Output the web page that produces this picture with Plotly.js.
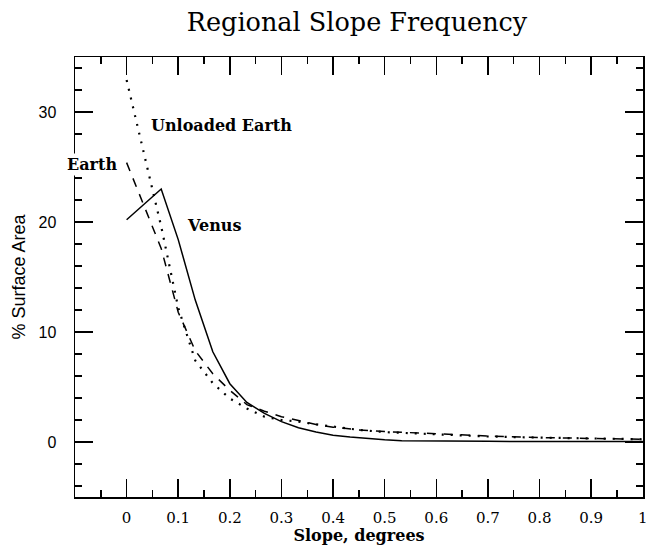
<!DOCTYPE html>
<html>
<head>
<meta charset="utf-8">
<script src="https://cdn.plot.ly/plotly-3.0.1.min.js"></script>
<style>html,body{margin:0;padding:0;background:#fff;}#chart{width:648px;height:545px;}</style>
</head>
<body>
<div id="chart"></div>
<script>
// Venus (solid)
var venusX = [0, 0.067, 0.1, 0.133, 0.167, 0.2, 0.233, 0.267, 0.3, 0.333, 0.367, 0.4, 0.433, 0.467, 0.5, 0.533, 0.6, 0.7, 0.8, 0.9, 1.0];
var venusY = [20.2, 23.0, 18.4, 12.9, 8.2, 5.3, 3.6, 2.6, 1.85, 1.3, 0.9, 0.62, 0.45, 0.3, 0.2, 0.12, 0.08, 0.06, 0.05, 0.05, 0.05];
// Earth (dashed)
var earthX = [0, 0.033, 0.067, 0.1, 0.133, 0.167, 0.2, 0.233, 0.267, 0.3, 0.333, 0.367, 0.4, 0.45, 0.5, 0.6, 0.7, 0.8, 0.9, 1.0];
var earthY = [25.4, 21.6, 17.6, 11.8, 8.3, 6.2, 4.7, 3.4, 2.8, 2.3, 1.95, 1.6, 1.35, 1.1, 0.95, 0.72, 0.55, 0.4, 0.3, 0.25];
// Unloaded Earth (dotted)
var unloadedX = [0, 0.033, 0.067, 0.1, 0.133, 0.167, 0.2, 0.233, 0.267, 0.3, 0.333, 0.367, 0.4, 0.45, 0.5, 0.6, 0.7, 0.8, 0.9, 1.0];
var unloadedY = [32.9, 26.2, 19.6, 12.2, 7.4, 5.35, 3.95, 3.05, 2.3, 2.0, 1.85, 1.6, 1.4, 1.1, 0.9, 0.68, 0.5, 0.4, 0.3, 0.25];

var xTickVals = [0, 0.1, 0.2, 0.3, 0.4, 0.5, 0.6, 0.7, 0.8, 0.9, 1];
var xTickText = ['0', '0.1', '0.2', '0.3', '0.4', '0.5', '0.6', '0.7', '0.8', '0.9', '1'];
var xMinorVals = [-0.05, 0.05, 0.15, 0.25, 0.35, 0.45, 0.55, 0.65, 0.75, 0.85, 0.95];
var yTickVals = [0, 10, 20, 30];
var yTickText = ['0', '10', '20', '30'];
var yMinorVals = [-4, -2, 2, 4, 6, 8, 12, 14, 16, 18, 22, 24, 26, 28, 32, 34];

var labels = ['Unloaded Earth', 'Earth', 'Venus'];
var labelX = [0.183, -0.068, 0.17];
var labelY = [28.8, 25.2, 19.7];

var serif = 'DejaVu Serif, serif';
var sans = 'Liberation Sans, Arial, sans-serif';

var traces = [
  {x: venusX, y: venusY, type: 'scatter', mode: 'lines', line: {color: '#000', width: 1.5}, name: 'Venus'},
  {x: earthX, y: earthY, type: 'scatter', mode: 'lines', line: {color: '#000', width: 1.5, dash: '9px,8px'}, name: 'Earth'},
  {x: unloadedX, y: unloadedY, type: 'scatter', mode: 'lines', line: {color: '#000', width: 2.2, dash: '2px,7px'}, name: 'Unloaded Earth'}
];

var annotations = labels.map(function (t, i) {
  return {x: labelX[i], y: labelY[i], xref: 'x', yref: 'y', text: t, showarrow: false,
    font: {family: serif, size: 16, color: '#000', weight: 'bold'}, bgcolor: '#fff', borderpad: 1};
});

var axisCommon = {
  showgrid: false, zeroline: false, showline: true, linecolor: '#000', linewidth: 1.5,
  ticks: 'inside', ticklen: 18, tickwidth: 1.5, tickcolor: '#000', mirror: 'ticks'
};

var layout = {
  width: 648, height: 545,
  margin: {l: 75, r: 5, t: 57, b: 48},
  paper_bgcolor: '#fff', plot_bgcolor: '#fff',
  showlegend: false,
  title: {text: 'Regional Slope Frequency', font: {family: serif, size: 25.5, color: '#000'},
    x: 0.551, xref: 'container', xanchor: 'center', y: 0.96, yref: 'container', yanchor: 'middle'},
  xaxis: Object.assign({}, axisCommon, {
    range: [-0.1, 1.0005], tickmode: 'array', tickvals: xTickVals, ticktext: xTickText,
    tickfont: {family: serif, size: 15, color: '#000'}, ticklabelstandoff: 6, ticklabeloverflow: 'allow',
    minor: {tickmode: 'array', tickvals: xMinorVals, ticks: 'inside', ticklen: 7, tickwidth: 1.5, tickcolor: '#000', showgrid: false},
    title: {text: 'Slope, degrees', font: {family: serif, size: 16, color: '#000', weight: 'bold'}, standoff: 0}
  }),
  yaxis: Object.assign({}, axisCommon, {
    range: [-5, 35], tickmode: 'array', tickvals: yTickVals, ticktext: yTickText,
    tickfont: {family: sans, size: 16, color: '#000'}, ticklabelstandoff: 14,
    minor: {tickmode: 'array', tickvals: yMinorVals, ticks: 'inside', ticklen: 7, tickwidth: 1.5, tickcolor: '#000', showgrid: false},
    title: {text: '% Surface Area', font: {family: sans, size: 18, color: '#000'}, standoff: 8}
  }),
  annotations: annotations
};

Plotly.newPlot('chart', traces, layout, {staticPlot: true, displayModeBar: false});
</script>
</body>
</html>
